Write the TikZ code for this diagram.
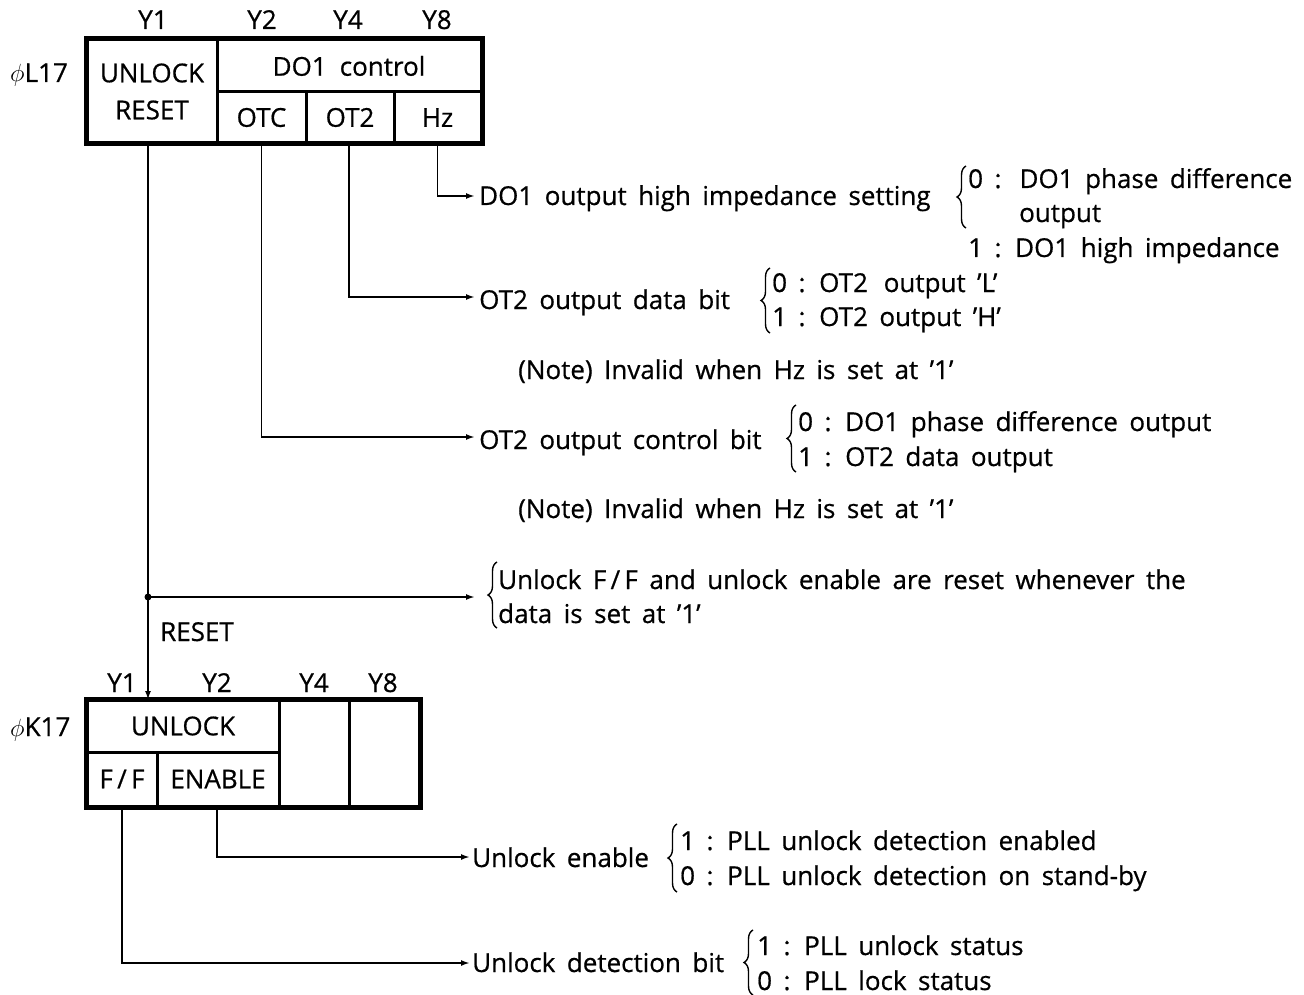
\documentclass[tikz,border=0pt]{standalone}
\usepackage{fontspec}
\setmainfont{Open Sans}[WordSpace=1.7, FakeBold=0.6]
\usetikzlibrary{decorations.pathreplacing,arrows.meta}
\begin{document}
\begin{tikzpicture}[x=1pt,y=-1pt,
  every node/.style={font=\fontsize{26}{37}\selectfont, inner sep=0pt},
  cell/.style={draw, line width=3pt, align=center, anchor=center},
  frame/.style={draw, line width=4pt},
  conn/.style={line width=1.8pt},
  arr/.style={conn, -{Latex[length=9pt,width=6pt]}},
  lab/.style={anchor=base west},
  ylab/.style={anchor=base},
  brc/.style={decorate, decoration={brace, amplitude=9pt}, line width=1.4pt}]
\useasboundingbox (0,0) rectangle (1304,995);
% ---------- top register phi L17 ----------
\node[cell, minimum width=130pt, minimum height=103pt] (ur) at (152,91.5) {UNLOCK\\RESET};
\node[cell, minimum width=264pt, minimum height=52pt] (do1) at (349,66) {DO1\hspace{0.5em}control};
\node[cell, minimum width=89pt, minimum height=51pt] (otc) at (261.5,117.5) {OTC};
\node[cell, minimum width=88pt, minimum height=51pt] (ot2) at (350,117.5) {OT2};
\node[cell, minimum width=87pt, minimum height=51pt] (hz) at (437.5,117.5) {Hz};
\draw[frame] (ur.north west) rectangle (hz.south east);
\node[lab] (l17) at (10,82) {\(\phi\)L17};
\node[ylab] (ty1) at (153,29) {Y1};
\node[ylab] (ty2) at (262,29) {Y2};
\node[ylab] (ty4) at (348,29) {Y4};
\node[ylab] (ty8) at (437,29) {Y8};
% ---------- bottom register phi K17 ----------
\node[cell, minimum width=192pt, minimum height=52pt] (unl) at (183,726) {UNLOCK};
\node[cell, minimum width=70pt, minimum height=54pt] (ff) at (122,779) {F\,/\,F};
\node[cell, minimum width=122pt, minimum height=54pt] (en) at (218,779) {ENABLE};
\node[cell, minimum width=70pt, minimum height=106pt] (y4) at (314,753) {};
\node[cell, minimum width=70pt, minimum height=106pt] (y8) at (384,753) {};
\draw[frame] (unl.north west) rectangle (y8.south east);
\node[lab] (k17) at (10,736) {\(\phi\)K17};
\node[ylab] (by1) at (122,692) {Y1};
\node[ylab] (by2) at (217,692) {Y2};
\node[ylab] (by4) at (314,692) {Y4};
\node[ylab] (by8) at (383,692) {Y8};
% ---------- coordinates ----------
\coordinate (urb) at (148,143);
\coordinate (unt) at (148,700);
\coordinate (dot) at (148,597);
\coordinate (a1) at (475,196);
\coordinate (a2) at (475,297);
\coordinate (a3) at (475,437);
\coordinate (a4) at (475,597);
\coordinate (a5) at (470,857);
\coordinate (a6) at (470,963);
% ---------- connectors ----------
\draw[arr] (hz.south) |- (a1);
\draw[arr] (ot2.south -| 349,0) |- (a2);
\draw[arr] (otc.south) |- (a3);
\draw[arr] (urb) -- (unt);
\draw[arr] (dot) -- (a4);
\fill (dot) circle (3.5pt);
\draw[arr] (en.south -| 217,0) |- (a5);
\draw[arr] (ff.south) |- (a6);
\node[lab] (rst) at (160,641) {RESET};
% ---------- labels ----------
\node[lab] (t1) at (479,205) {DO1 output high impedance setting};
\draw[brc] (966,228) -- (966,166);
\node[lab] (t1a) at (968,188) {0 :\, DO1 phase difference};
\node[lab] (t1b) at (1019,222) {output};
\node[lab] (t1c) at (968,257) {1 : DO1 high impedance};

\node[lab] (t2) at (479,309) {OT2 output data bit};
\draw[brc] (770,333) -- (770,268);
\node[lab] (t2a) at (772,292) {0 : OT2\, output ’L’};
\node[lab] (t2b) at (772,326) {1 : OT2 output ’H’};
\node[lab] (n1) at (518,379) {(Note) Invalid when Hz is set at ’1’};

\node[lab] (t3) at (479,449) {OT2 output control bit};
\draw[brc] (796,472) -- (796,405);
\node[lab] (t3a) at (798,431) {0 : DO1 phase difference output};
\node[lab] (t3b) at (798,466) {1 : OT2 data output};
\node[lab] (n2) at (518,518) {(Note) Invalid when Hz is set at ’1’};

\draw[brc] (497,628) -- (497,562);
\node[lab] (t4a) at (498,589) {Unlock F\,/\,F and unlock enable are reset whenever the};
\node[lab] (t4b) at (498,623) {data is set at ’1’};

\node[lab] (t5) at (472,867) {Unlock enable};
\draw[brc] (677,892) -- (677,824);
\node[lab] (t5a) at (680,850) {1 : PLL unlock detection enabled};
\node[lab] (t5b) at (680,885) {0 : PLL unlock detection on stand-by};

\node[lab] (t6) at (472,972) {Unlock detection bit};
\draw[brc] (753,995) -- (753,930);
\node[lab] (t6a) at (757,955) {1 : PLL unlock status};
\node[lab] (t6b) at (757,990) {0 : PLL lock status};
\end{tikzpicture}
\end{document}
